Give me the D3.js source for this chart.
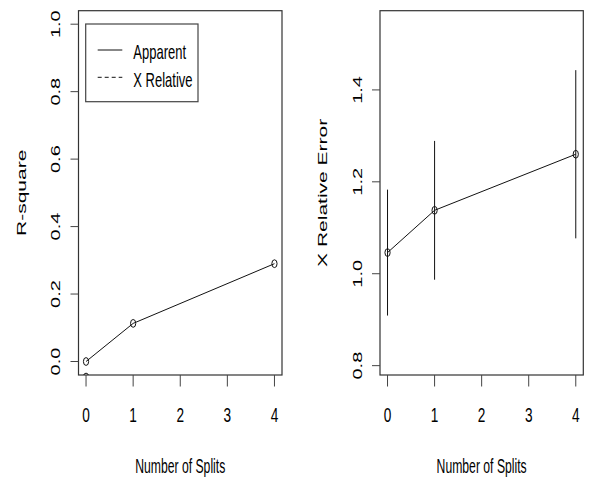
<!DOCTYPE html>
<html>
<head>
<meta charset="utf-8">
<script src="https://d3js.org/d3.v7.min.js"></script>
<style>
  body { margin: 0; background: #fff; }
  text { font-family: "Liberation Sans", Arial, sans-serif; fill: #000; }
</style>
</head>
<body>
<script>
// values (rsq.rpart style output)
const splits = [0, 1, 4];
const apparent = [0, 0.113, 0.29];
const xRelative = [-0.046, -0.138, -0.26];
const xerror = [1.046, 1.138, 1.26];
const xstd = [0.137, 0.151, 0.183];
const splitTicks = [0, 1, 2, 3, 4];
const rsqTicks = [0, 0.2, 0.4, 0.6, 0.8, 1.0];
const errTicks = [0.8, 1.0, 1.2, 1.4];
const legendLabels = ["Apparent", "X Relative"];

const W = 591, H = 477;
const sx = 0.65; // the picture is squeezed sideways
const svg = d3.select("body").append("svg").attr("width", W).attr("height", H);

// R style: 4% padding on the data range
function pad(lo, hi) { const d = (hi - lo) * 0.04; return [lo - d, hi + d]; }

function hText(g, x, y, str, size, k) {
  return g.append("text")
    .attr("transform", "translate(" + x + "," + y + ") scale(" + k + ",1)")
    .attr("text-anchor", "middle").attr("font-size", size).text(str);
}
function vText(g, x, y, str, size) {
  return g.append("text")
    .attr("transform", "translate(" + x + "," + y + ") scale(" + sx + ",1) rotate(-90)")
    .attr("text-anchor", "middle").attr("font-size", size).text(str);
}

function panel(id, box, yDomain, yTicks, yLab, fmt) {
  const g = svg.append("g");
  const x = d3.scaleLinear().domain(pad(0, 4)).range([box.l, box.r]);
  const y = d3.scaleLinear().domain(yDomain).range([box.b, box.t]);

  g.append("clipPath").attr("id", id).append("rect")
    .attr("x", box.l).attr("y", box.t).attr("width", box.r - box.l).attr("height", box.b - box.t);

  // frame
  g.append("rect").attr("x", box.l).attr("y", box.t)
    .attr("width", box.r - box.l).attr("height", box.b - box.t)
    .attr("fill", "none").attr("stroke", "#333").attr("stroke-width", 1.2);

  // axes ticks
  g.selectAll(".xt").data(splitTicks).enter().append("line")
    .attr("x1", d => x(d)).attr("x2", d => x(d))
    .attr("y1", box.b).attr("y2", box.b + 11.5).attr("stroke", "#444");
  splitTicks.forEach(d => hText(g, x(d), box.b + 46.5, d, 21, sx));

  g.selectAll(".yt").data(yTicks).enter().append("line")
    .attr("x1", box.l - 8).attr("x2", box.l)
    .attr("y1", d => y(d)).attr("y2", d => y(d)).attr("stroke", "#444");
  yTicks.forEach(d => vText(g, box.l - 18.5, y(d), fmt(d), 20));

  vText(g, box.l - 53, (box.t + box.b) / 2, yLab, 21);
  hText(g, (box.l + box.r) / 2, box.b + 98, "Number of Splits", 20, 0.61);

  const plot = g.append("g").attr("clip-path", "url(#" + id + ")");
  return { x, y, plot };
}

function series(p, vals, dash) {
  const pts = splits.map((s, i) => [s, vals[i]]);
  p.plot.append("path").datum(pts)
    .attr("d", d3.line().x(d => p.x(d[0])).y(d => p.y(d[1])))
    .attr("fill", "none").attr("stroke", "#111").attr("stroke-width", 1)
    .attr("stroke-dasharray", dash);
  p.plot.selectAll(null).data(pts).enter().append("ellipse")
    .attr("cx", d => p.x(d[0])).attr("cy", d => p.y(d[1]))
    .attr("rx", 2.6).attr("ry", 3.9)
    .attr("fill", "none").attr("stroke", "#111").attr("stroke-width", 1);
}

// left: R-square
const left = panel("cl", { l: 78.5, r: 282, t: 10.7, b: 375 }, pad(0, 1), rsqTicks, "R-square", d3.format(".1f"));
series(left, apparent, null);
series(left, xRelative, "4,3");

// legend
const lg = svg.append("g");
lg.append("rect").attr("x", 85.7).attr("y", 24).attr("width", 112.3).attr("height", 77.7)
  .attr("fill", "#fff").attr("stroke", "#444").attr("stroke-width", 1.2);
legendLabels.forEach((lab, i) => {
  const yy = 50 + i * 27.3;
  lg.append("line").attr("x1", 97.7).attr("x2", 122.3).attr("y1", yy).attr("y2", yy)
    .attr("stroke", "#111").attr("stroke-dasharray", i ? "4,3" : null);
  lg.append("text")
    .attr("transform", "translate(133.3," + (yy + 9.3) + ") scale(" + sx + ",1)")
    .attr("font-size", 20).text(lab);
});

// right: X relative error with error bars
const lo = d3.min(xerror.map((v, i) => v - xstd[i])) - 0.1;
const hi = d3.max(xerror.map((v, i) => v + xstd[i])) + 0.1;
const right = panel("cr", { l: 380, r: 583.3, t: 10.7, b: 375 }, pad(lo, hi), errTicks, "X Relative Error", d3.format(".1f"));
right.plot.selectAll(null).data(splits).enter().append("line")
  .attr("x1", d => right.x(d)).attr("x2", d => right.x(d))
  .attr("y1", (d, i) => right.y(xerror[i] - xstd[i]))
  .attr("y2", (d, i) => right.y(xerror[i] + xstd[i]))
  .attr("stroke", "#111");
series(right, xerror, null);
</script>
</body>
</html>
